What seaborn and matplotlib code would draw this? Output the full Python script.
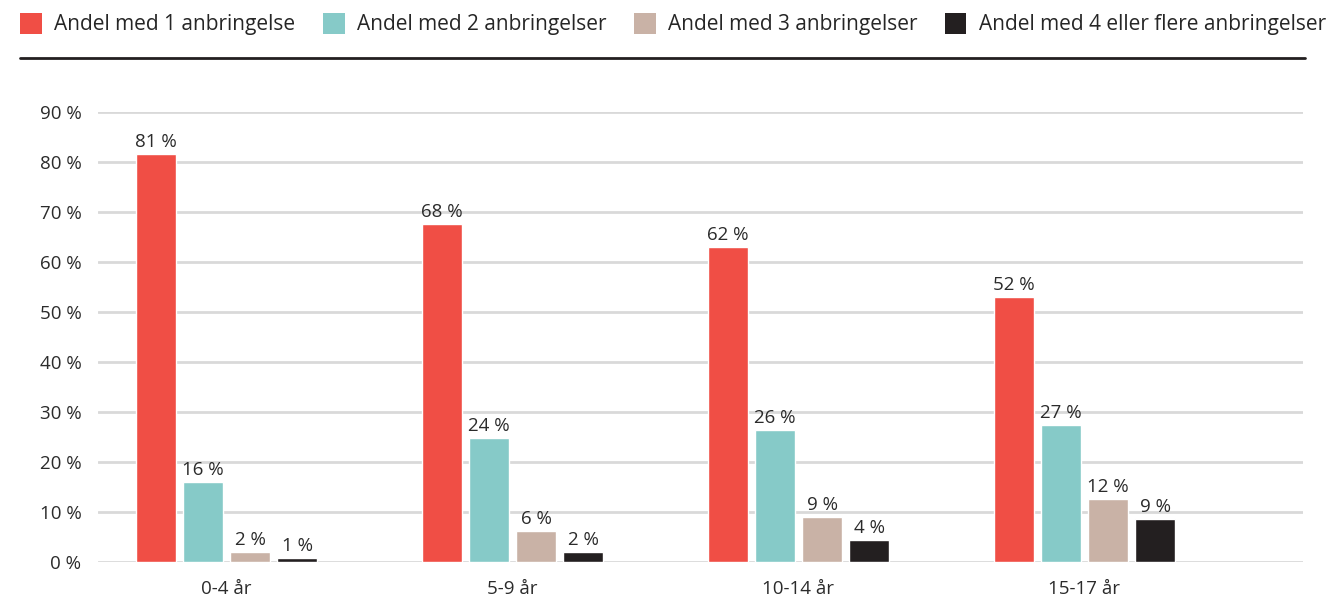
import pandas as pd
import matplotlib.pyplot as plt
import seaborn as sns
from matplotlib.lines import Line2D
from matplotlib.patches import Patch

# Data
age_groups = ['0-4 år', '5-9 år', '10-14 år', '15-17 år']
series = ['Andel med 1 anbringelse', 'Andel med 2 anbringelser',
          'Andel med 3 anbringelser', 'Andel med 4 eller flere anbringelser']
share_1 = [81.6, 67.6, 63.0, 53.0]
share_2 = [16.0, 24.8, 26.4, 27.4]
share_3 = [2.0, 6.2, 9.0, 12.6]
share_4 = [0.8, 2.0, 4.4, 8.6]
labels_1 = [81, 68, 62, 52]
labels_2 = [16, 24, 26, 27]
labels_3 = [2, 6, 9, 12]
labels_4 = [1, 2, 4, 9]
colors = ['#F04E45', '#86CAC8', '#C9B2A6', '#231F20']

rows = []
for s, vals in zip(series, [share_1, share_2, share_3, share_4]):
    for a, v in zip(age_groups, vals):
        rows.append({'Alder': a, 'Serie': s, 'Andel': v})
df = pd.DataFrame(rows)

sns.set_style('white')
plt.rcParams['font.family'] = ['Open Sans', 'DejaVu Sans']

fig = plt.figure(figsize=(13.42, 6.03), dpi=100)
ax = fig.add_axes([0.073, 0.068, 0.898, 0.746])

sns.barplot(data=df, x='Alder', y='Andel', hue='Serie', palette=colors,
            width=0.66, gap=0.15, ax=ax, legend=False, saturation=1)

for cont, labs in zip(ax.containers, [labels_1, labels_2, labels_3, labels_4]):
    ax.bar_label(cont, labels=[f'{l} %' for l in labs], padding=2,
                 fontsize=13.5, color='#2b2b2b')

ax.set_ylim(0, 90)
ax.set_xlim(-0.45, 3.765)
ax.set_yticks(range(0, 91, 10))
ax.set_yticklabels([f'{t} %' for t in range(0, 91, 10)])
ax.yaxis.grid(True, color='#D9D9D9', linewidth=2)
ax.set_axisbelow(True)
ax.tick_params(axis='both', length=0, labelsize=13.5, colors='#2b2b2b')
ax.tick_params(axis='x', pad=13)
ax.tick_params(axis='y', pad=12)
ax.set_xlabel('')
ax.set_ylabel('')
sns.despine(ax=ax, left=True, bottom=True)

handles = [Patch(facecolor=c, edgecolor='none') for c in colors]
fig.legend(handles, series, loc='upper left', bbox_to_anchor=(0.001, 1.01),
           ncol=4, frameon=False, fontsize=15, handlelength=1.05,
           handleheight=1.2, handletextpad=0.6, columnspacing=1.3)

fig.add_artist(Line2D([20 / 1342, 1305 / 1342], [0.904, 0.904],
                      color='#231F20', linewidth=2))

fig.savefig('out.png', dpi=100)
